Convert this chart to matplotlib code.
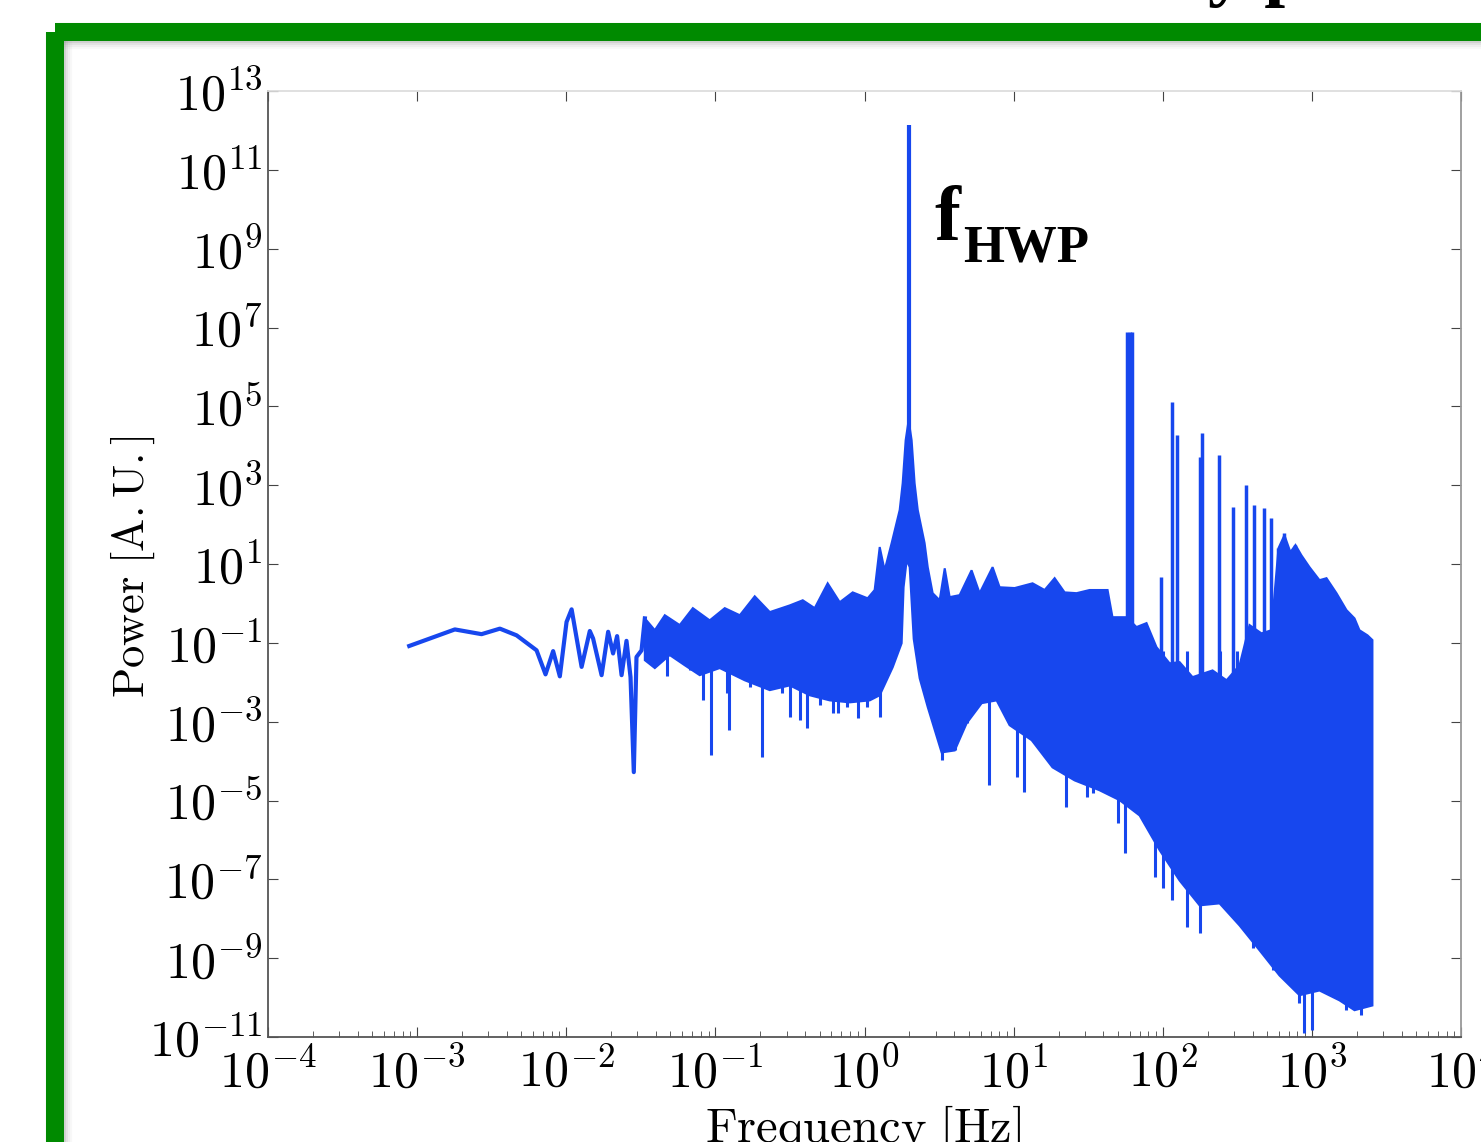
import numpy as np
import matplotlib.pyplot as plt
from matplotlib.patches import Rectangle
from matplotlib.ticker import FixedLocator, FuncFormatter, LogLocator, NullFormatter, NullLocator

plt.rcParams['mathtext.fontset'] = 'cm'

# --- spectrum (log10 f [Hz], log10 power [A.U.]) ---

# sparse low-frequency part, drawn as a plain line
low_logf = [-3.053, -2.747, -2.568, -2.445, -2.333, -2.199, -2.139, -2.088, -2.043, -1.998,
            -1.964, -1.897, -1.842, -1.820, -1.763, -1.719, -1.686, -1.659, -1.629, -1.596,
            -1.569, -1.547, -1.529, -1.495, -1.473]
low_logp = [-1.08, -0.66, -0.78, -0.64, -0.81, -1.19, -1.80, -1.21, -1.85, -0.47,
            -0.15, -1.61, -0.70, -0.89, -1.82, -0.72, -1.27, -0.83, -1.82, -0.95,
            -1.87, -4.28, -1.36, -1.19, -0.38]

# dense part: top edge of the noise band
hi_logf = [-1.473, -1.406, -1.339, -1.239, -1.151, -1.038, -0.937, -0.836, -0.736, -0.635,
           -0.501, -0.414, -0.334, -0.247, -0.166, -0.079, 0.021, 0.068, 0.102, 0.135,
           0.182, 0.236, 0.256, 0.276, 0.296, 0.316, 0.336, 0.357, 0.403, 0.424,
           0.457, 0.504, 0.538, 0.571, 0.638, 0.718, 0.772, 0.859, 0.906, 1.007,
           1.127, 1.208, 1.275, 1.342, 1.422, 1.509, 1.630, 1.663, 1.757, 1.824,
           1.891, 1.958, 2.046, 2.113, 2.200, 2.334, 2.428, 2.515, 2.582, 2.662,
           2.729, 2.776, 2.816, 2.856, 2.890, 2.930, 2.984, 3.051, 3.098, 3.165,
           3.232, 3.286, 3.319, 3.373, 3.406]
hi_logp = [-0.38, -0.68, -0.30, -0.55, -0.12, -0.43, -0.12, -0.30, 0.18, -0.22,
           -0.05, 0.08, -0.12, 0.51, 0.03, 0.28, 0.13, 0.34, 1.43, 0.84,
           1.53, 2.37, 3.05, 4.14, 4.65, 4.14, 3.05, 2.37, 1.53, 0.92,
           0.26, 0.08, 0.89, 0.16, 0.21, 0.84, 0.26, 0.92, 0.41, 0.39,
           0.51, 0.34, 0.64, 0.28, 0.26, 0.34, 0.34, -0.35, -0.35, -0.60,
           -0.50, -1.11, -1.52, -1.49, -1.87, -1.70, -1.95, -1.57, -0.55, -0.76,
           -0.68, 1.40, 1.73, 1.30, 1.48, 1.22, 0.92, 0.59, 0.64, 0.26,
           -0.17, -0.38, -0.68, -0.81, -0.93]

# dense part: bottom edge of the noise band
lo_logf = [-1.473, -1.406, -1.306, -1.205, -1.105, -0.971, -0.803, -0.635, -0.501, -0.367,
           -0.233, -0.099, 0.035, 0.102, 0.189, 0.249, 0.262, 0.283, 0.303, 0.330,
           0.370, 0.424, 0.517, 0.605, 0.685, 0.786, 0.886, 0.973, 1.121, 1.261,
           1.409, 1.576, 1.710, 1.845, 1.979, 2.113, 2.247, 2.381, 2.515, 2.649,
           2.783, 2.917, 3.051, 3.185, 3.286, 3.406]
lo_logp = [-1.44, -1.64, -1.31, -1.57, -1.82, -1.64, -1.95, -2.20, -2.08, -2.33,
           -2.46, -2.51, -2.46, -2.33, -1.62, -1.01, 0.41, 1.10, 0.92, -0.90,
           -1.90, -2.63, -3.78, -3.73, -3.04, -2.53, -2.46, -3.09, -3.47, -4.16,
           -4.49, -4.74, -4.99, -5.38, -6.26, -7.03, -7.66, -7.61, -8.17, -8.80,
           -9.44, -9.94, -9.82, -10.07, -10.32, -10.20]

# narrow dips below the band
dip_logf = [-1.326, -1.172, -1.086, -1.026, -0.924, -0.910, -0.769, -0.684, -0.615, -0.555,
            -0.501, -0.434, -0.387, -0.300, -0.213, -0.180, -0.119, -0.046, 0.015, 0.102,
            0.517, 0.605, 0.685, 0.832, 1.020, 1.067, 1.208, 1.261, 1.349, 1.395,
            1.489, 1.529, 1.630, 1.697, 1.744, 1.777, 1.945, 1.999, 2.059, 2.160,
            2.247, 2.381, 2.495, 2.602, 2.736, 2.830, 2.917, 2.950, 3.004, 3.232, 3.332]
dip_logp = [-1.85, -1.70, -2.46, -3.85, -2.28, -3.22, -2.13, -3.90, -2.03, -2.28,
            -2.89, -2.96, -3.17, -2.58, -2.79, -2.79, -2.63, -2.91, -2.63, -2.89,
            -3.98, -3.73, -3.04, -4.61, -4.41, -4.79, -3.90, -4.16, -5.17, -4.31,
            -4.92, -4.82, -4.82, -5.58, -6.34, -5.17, -6.95, -7.23, -7.53, -8.22,
            -8.37, -7.61, -8.04, -8.73, -9.31, -9.56, -10.15, -10.91, -10.83, -10.32, -10.45]

# HWP rotation line
hwp_f = 1.98
hwp_logp = 12.14

# 60 Hz pickup and harmonics
spike_f = [58, 60, 62, 98, 116, 124, 178, 182, 237, 298, 359, 412, 481, 536, 597, 655, 718, 776]
spike_logp = [6.88, 6.88, 6.88, 0.66, 5.11, 4.27, 3.71, 4.32, 3.76, 2.44, 3.00, 2.49, 2.42,
              2.16, 1.40, 1.78, 1.35, 1.48]

W, H = 1481, 1142
blue = '#1747ee'
green = '#008a00'

fig = plt.figure(figsize=(W / 100, H / 100), dpi=100)

# slide background in pixel coords
bg = fig.add_axes([0, 0, 1, 1])
bg.set_xlim(0, W)
bg.set_ylim(H, 0)
bg.axis('off')
bg.add_patch(Rectangle((55, 32), 3000, 3000, fill=False, edgecolor=green, lw=13, joinstyle='round'))
for i, a in enumerate([0.35, 0.22, 0.12, 0.05]):
    bg.plot([65 + i * 2, 65 + i * 2], [42, H], color='gray', lw=1.5, alpha=a)
    bg.plot([65, W], [42 + i * 2, 42 + i * 2], color='gray', lw=1.5, alpha=a)
bg.text(1208, -8, 'y p', fontsize=54, family='Liberation Serif', weight='bold', va='baseline')
bg.text(934, 240, 'f', fontsize=56, family='Liberation Serif', weight='bold', va='baseline')
bg.text(963, 262, 'HWP', fontsize=38, family='Liberation Serif', weight='bold', va='baseline')
bg.text(133, 567, r'$\mathrm{Power\ [A.U.]}$', fontsize=32, rotation=90, ha='center', va='center')
bg.text(863, 1130, r'$\mathrm{Frequency\ [Hz]}$', fontsize=35, ha='center', va='center')

ax = fig.add_axes([268 / W, 1 - 1037 / H, (1461 - 268) / W, (1037 - 91) / H])
ax.set_facecolor('none')

ax.plot(10.0 ** np.array(low_logf), 10.0 ** np.array(low_logp), color=blue, lw=3)
band_f = np.concatenate([hi_logf, lo_logf[::-1]])
band_p = np.concatenate([hi_logp, lo_logp[::-1]])
ax.fill(10.0 ** band_f, 10.0 ** band_p, facecolor=blue, edgecolor=blue, lw=1.5)
ax.vlines(10.0 ** np.array(dip_logf), 10.0 ** np.array(dip_logp), 10 ** -1.2, color=blue, lw=2.2)
ax.vlines(spike_f, 1e-3, 10.0 ** np.array(spike_logp), color=blue, lw=2.5)
ax.vlines(hwp_f, 1e4, 10 ** hwp_logp, color=blue, lw=3)

ax.set_xscale('log')
ax.set_yscale('log')
ax.set_xlim(1e-4, 1e4)
ax.set_ylim(1e-11, 1e13)

fmt = FuncFormatter(lambda v, p: r'$10^{%d}$' % int(round(np.log10(v))))
ax.xaxis.set_major_locator(FixedLocator(10.0 ** np.arange(-4, 5)))
ax.xaxis.set_minor_locator(LogLocator(base=10, subs=np.arange(2, 10), numticks=100))
ax.xaxis.set_minor_formatter(NullFormatter())
ax.xaxis.set_major_formatter(fmt)
ax.yaxis.set_major_locator(FixedLocator(10.0 ** np.arange(-11, 14, 2)))
ax.yaxis.set_minor_locator(NullLocator())
ax.yaxis.set_major_formatter(fmt)
ax.tick_params(which='both', direction='in', colors='#444', labelcolor='black')
ax.tick_params(which='major', length=7, labelsize=36, top=True, right=True)
ax.tick_params(which='minor', length=4, top=False)
ax.tick_params(axis='x', pad=8)
ax.tick_params(axis='y', pad=4)
for side, c in [('bottom', '#555'), ('left', '#555'), ('top', '#dddddd'), ('right', '#999999')]:
    ax.spines[side].set_color(c)
    ax.spines[side].set_linewidth(1.3)

fig.savefig('out.png', dpi=100)
